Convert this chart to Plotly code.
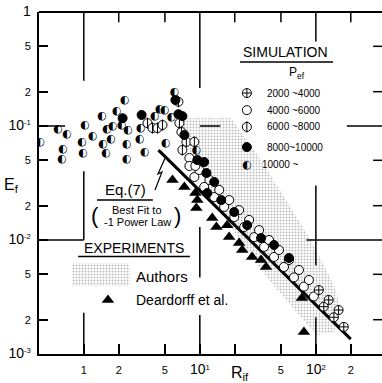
import math
import plotly.graph_objects as go

# ---------------- data ----------------
# Simulation, P_ef 10000~ (half-filled circles)
ri_p10k = [0.42, 0.598, 0.715, 0.660, 0.647, 1.02, 0.961, 0.98, 1.19, 1.43, 1.92, 1.58, 1.77, 1.46, 1.71,
           1.55, 2.39, 2.34, 2.34, 3.09, 4.07, 3.02, 3.34, 4.49, 4.96, 5.06, 2.25, 6.04, 2.12, 5.69, 9.33]
e_p10k = [0.0725, 0.0942, 0.0851, 0.0628, 0.0514, 0.102, 0.0725, 0.0579, 0.0817, 0.122, 0.135, 0.0942, 0.100,
          0.0695, 0.0769, 0.0579, 0.0923, 0.0695, 0.0514, 0.0960, 0.122, 0.0769, 0.0591, 0.141, 0.138, 0.0710,
          0.169, 0.199, 0.102, 0.120, 0.0616]

# P_ef 8000~10000 (filled circles)
ri_p8k = [2.16, 3.15, 6.16, 6.54, 7.08, 7.36, 9.52, 10.9, 11.6, 15.3, 19.8, 25.6, 33.7, 43.6, 58.7, 11.4, 13.3]
e_p8k = [0.117, 0.125, 0.169, 0.127, 0.122, 0.0834, 0.0503, 0.0483, 0.0258, 0.0224, 0.0176, 0.0135, 0.0104,
         0.00904, 0.00695, 0.0387, 0.0323]

# P_ef 6000~8000 (circle with vertical bar)
ri_p6k = [3.54, 3.91, 4.32, 4.77, 6.54, 6.67, 6.94, 7.66, 7.08, 8.97]
e_p6k = [0.106, 0.0960, 0.0960, 0.102, 0.163, 0.106, 0.0886, 0.0725, 0.0616, 0.0725]

# P_ef 4000~6000 (open circles)
ri_p4k = [8.97, 10.9, 13.3, 16.2, 19.8, 24.1, 29.4, 35.8, 43.6, 53.1, 64.8, 78.9, 96.1,
          9.9, 12.1, 14.7, 17.9, 21.8, 26.6, 32.4, 39.5, 48.1, 58.7, 71.5, 87.1, 8.13, 8.13, 9.15]
e_p4k = [0.0357, 0.0292, 0.0238, 0.0195, 0.0159, 0.0130, 0.0106, 0.0087, 0.0071, 0.0058, 0.0047, 0.0039, 0.0032,
         0.0411, 0.0336, 0.0275, 0.0224, 0.0183, 0.0150, 0.0122, 0.0100, 0.00817, 0.00668, 0.00546, 0.00446,
         0.0524, 0.0446, 0.0446]

# P_ef 2000~4000 (crossed circles)
ri_p2k = [117, 143, 174, 106, 129, 157]
e_p2k = [0.0026, 0.0021, 0.00173, 0.00364, 0.00298, 0.00243]

# Experiments: Deardorff et al.
ri_dear = [5.81, 7.36, 9.15, 9.52, 9.33, 12.8, 13.9, 17.2, 17.9, 21.8, 23.2, 28.2, 33.7, 37.2, 75.8, 78.9]
e_dear = [0.0336, 0.0292, 0.0258, 0.0224, 0.0191, 0.0156, 0.0130, 0.0135, 0.0106, 0.0094, 0.00817, 0.0071,
          0.00668, 0.0058, 0.0031, 0.00156]

# Experiments: Authors (shaded region outline)
ri_auth = [6.41, 18.6, 33.7, 58.7, 90.6, 143, 164, 143, 102, 71.5, 39.5, 21.8, 13.3, 8.97, 6.67, 6.41]
e_auth = [0.117, 0.117, 0.0503, 0.0203, 0.0100, 0.00403, 0.00243, 0.00156, 0.00147, 0.0022, 0.00446, 0.0100,
          0.0224, 0.0503, 0.0923, 0.117]

# Eq.(7): best fit to -1 power law
ri_eq7 = [4.4, 200]
e_eq7 = [0.0614, 0.00135]

# axis ticks
x_tickvals = [1, 2, 5, 10, 20, 50, 100, 200]
x_ticktext = ["1", "2", "5", "<span style='font-size:14px'>10</span><sup>1</sup>", "", "5",
              "<span style='font-size:14px'>10</span><sup>2</sup>", "2"]
y_tickvals = [0.001, 0.002, 0.005, 0.01, 0.02, 0.05, 0.1, 0.2, 0.5, 1]
y_ticktext = ["<span style='font-size:14px'>10</span><sup>-3</sup>", "2", "5",
              "<span style='font-size:14px'>10</span><sup>-2</sup>", "2", "5",
              "<span style='font-size:14px'>10</span><sup>-1</sup>", "2", "5",
              "<span style='font-size:14px'>1</span>"]

legend_labels = ["2000 ~4000", "4000 ~6000", "6000 ~8000", "8000~10000", "10000 ~"]

# ---------------- figure ----------------
XR = [-0.386, 2.57]
YR = [-3.0, 0.0]
FONT = "Liberation Sans"


def xp(v):
    return (math.log10(v) - XR[0]) / (XR[1] - XR[0])


def yp(v):
    return (math.log10(v) - YR[0]) / (YR[1] - YR[0])


fig = go.Figure()

pattern = dict(shape=".", fgcolor="#777777", bgcolor="white", size=3, solidity=0.35)

fig.add_trace(go.Scatter(x=ri_auth, y=e_auth, mode="lines", fill="toself", line=dict(width=0),
                         fillcolor="rgba(0,0,0,0)", fillpattern=pattern, hoverinfo="skip"))
fig.add_trace(go.Scatter(x=ri_eq7, y=e_eq7, mode="lines", line=dict(color="black", width=3)))
fig.add_trace(go.Scatter(x=ri_dear, y=e_dear, mode="markers",
                         marker=dict(symbol="triangle-up", size=11, color="black")))

circ_line = dict(color="black", width=1)
fig.add_trace(go.Scatter(x=ri_p4k, y=e_p4k, mode="markers",
                         marker=dict(symbol="circle", size=9, color="white", line=circ_line)))
fig.add_trace(go.Scatter(x=ri_p2k, y=e_p2k, mode="markers",
                         marker=dict(symbol="circle-cross", size=9, color="white", line=circ_line)))
fig.add_trace(go.Scatter(x=ri_p6k, y=e_p6k, mode="markers",
                         marker=dict(symbol="circle", size=9, color="white", line=circ_line)))
fig.add_trace(go.Scatter(x=ri_p6k, y=e_p6k, mode="markers",
                         marker=dict(symbol="line-ns", size=8, color="black", line=circ_line)))
fig.add_trace(go.Scatter(x=ri_p8k, y=e_p8k, mode="markers",
                         marker=dict(symbol="circle", size=9, color="black", line=circ_line)))
fig.add_trace(go.Scatter(x=ri_p10k, y=e_p10k, mode="text", text=["◐"] * len(ri_p10k),
                         textfont=dict(family="DejaVu Sans", size=11, color="black"),
                         textposition="middle center"))

# legend keys on an overlay unit axis
lx = 0.606
ly = [0.763, 0.713, 0.664, 0.605, 0.553]
fig.add_trace(go.Scatter(x=[lx], y=[ly[0]], xaxis="x2", yaxis="y2", mode="markers",
                         marker=dict(symbol="circle-cross", size=9, color="white", line=circ_line)))
fig.add_trace(go.Scatter(x=[lx], y=[ly[1]], xaxis="x2", yaxis="y2", mode="markers",
                         marker=dict(symbol="circle", size=9, color="white", line=circ_line)))
fig.add_trace(go.Scatter(x=[lx], y=[ly[2]], xaxis="x2", yaxis="y2", mode="markers",
                         marker=dict(symbol="circle", size=9, color="white", line=circ_line)))
fig.add_trace(go.Scatter(x=[lx], y=[ly[2]], xaxis="x2", yaxis="y2", mode="markers",
                         marker=dict(symbol="line-ns", size=8, color="black", line=circ_line)))
fig.add_trace(go.Scatter(x=[lx], y=[ly[3]], xaxis="x2", yaxis="y2", mode="markers",
                         marker=dict(symbol="circle", size=9, color="black", line=circ_line)))
fig.add_trace(go.Scatter(x=[lx], y=[ly[4]], xaxis="x2", yaxis="y2", mode="text", text=["◐"],
                         textfont=dict(family="DejaVu Sans", size=11, color="black"),
                         textposition="middle center"))
fig.add_trace(go.Scatter(x=[0.201], y=[0.158], xaxis="x2", yaxis="y2", mode="markers",
                         marker=dict(symbol="triangle-up", size=11, color="black")))
fig.add_trace(go.Scatter(x=[0.096, 0.265, 0.265, 0.096, 0.096], y=[0.199, 0.199, 0.266, 0.266, 0.199],
                         xaxis="x2", yaxis="y2", mode="lines", fill="toself", line=dict(width=0),
                         fillcolor="rgba(0,0,0,0)", fillpattern=pattern))

ann = []
for i, t in enumerate(legend_labels):
    ann.append(dict(x=0.659 if i < 4 else 0.644, y=ly[i], text=t, xanchor="left",
                    font=dict(family=FONT, size=10)))
ann += [
    dict(x=0.720, y=0.883, text="SIMULATION", font=dict(family=FONT, size=14)),
    dict(x=0.752, y=0.822, text="P<sub>ef</sub>", font=dict(family=FONT, size=12)),
    dict(x=0.277, y=0.310, text="EXPERIMENTS", font=dict(family=FONT, size=14)),
    dict(x=0.277, y=0.228, text="Authors", xanchor="left", font=dict(family=FONT, size=15)),
    dict(x=0.277, y=0.158, text="Deardorff et al.", xanchor="left", font=dict(family=FONT, size=14)),
    dict(x=0.251, y=0.480, text="Eq.(7)", font=dict(family=FONT, size=15)),
    dict(x=0.286, y=0.422, text="Best Fit to", font=dict(family=FONT, size=11)),
    dict(x=0.286, y=0.386, text="-1 Power Law", font=dict(family=FONT, size=11)),
    dict(x=0.164, y=0.404, text="(", font=dict(family=FONT, size=22)),
    dict(x=0.405, y=0.404, text=")", font=dict(family=FONT, size=22)),
    dict(x=0.586, y=-0.058, text="R<sub>if</sub>", font=dict(family=FONT, size=16)),
    dict(x=-0.079, y=0.494, text="E<sub>f</sub>", font=dict(family=FONT, size=16)),
]
for a in ann:
    a.setdefault("xref", "paper")
    a.setdefault("yref", "paper")
    a.setdefault("showarrow", False)
    a.setdefault("xanchor", "center")
    a.setdefault("yanchor", "middle")
    a["font"]["color"] = "black"
fig.update_layout(annotations=ann)

shapes = []


def seg(x0, y0, x1, y1, w=1.5):
    shapes.append(dict(type="line", xref="paper", yref="paper", x0=x0, y0=y0, x1=x1, y1=y1,
                       line=dict(color="black", width=w)))


# top frame line
seg(0, 1, 1, 1, 2)
# decade cross marks
seg(xp(1), yp(1), xp(1), yp(0.25))
seg(xp(1), yp(0.04), xp(1), yp(0.01))
seg(0, yp(0.01), xp(1), yp(0.01))
seg(0, yp(0.1), xp(0.69), yp(0.1))
seg(xp(1), yp(0.001), xp(1), yp(0.0023))
seg(xp(10), yp(1), xp(10), yp(0.215))
seg(xp(10), yp(0.1), xp(15), yp(0.1))
seg(xp(10), yp(0.013), xp(10), yp(0.0047))
seg(xp(10), yp(0.001), xp(10), yp(0.0022))
seg(xp(100), yp(1), xp(100), yp(0.55))
seg(xp(100), yp(0.03), xp(100), yp(0.006))
seg(xp(100), yp(0.001), xp(100), yp(0.0021))
seg(xp(83), yp(0.01), 1, yp(0.01))
seg(xp(185), yp(0.1), 1, yp(0.1))
# right-hand ticks
for v in [0.5, 0.2, 0.05, 0.02, 0.005, 0.002]:
    seg(0.974, yp(v), 1, yp(v))
# top ticks
for v in [2, 5, 20, 50, 200]:
    seg(xp(v), 1, xp(v), 0.97)
# underlines
seg(0.586, 0.854, 0.857, 0.854, 1.5)
seg(0.114, 0.285, 0.440, 0.285, 1.5)
seg(0.169, 0.450, 0.332, 0.450, 1.5)


def P(px, py):
    return ((px - 39) / 343.0, (354 - py) / 342.0)


# zig-zag arrow of Eq.(7)
pts = [P(155, 190), P(162, 172), P(158, 174), P(166, 156)]
path = "M " + " L ".join(f"{a:.4f},{b:.4f}" for a, b in pts)
shapes.append(dict(type="path", xref="paper", yref="paper", path=path, line=dict(color="black", width=1.2)))
fig.update_layout(shapes=shapes)

fig.update_layout(
    width=382, height=383,
    margin=dict(l=39, r=0, t=12, b=29),
    paper_bgcolor="white", plot_bgcolor="white",
    showlegend=False,
    font=dict(family=FONT, color="black", size=11),
    xaxis=dict(type="log", range=XR, tickvals=x_tickvals, ticktext=x_ticktext, ticks="inside",
               ticklen=10, tickwidth=1.5, tickcolor="black", showline=True, linecolor="black",
               linewidth=2, showgrid=False, zeroline=False, tickfont=dict(size=11),
               ticklabelstandoff=5),
    yaxis=dict(type="log", range=YR, tickvals=y_tickvals, ticktext=y_ticktext, ticks="inside",
               ticklen=9, tickwidth=1.5, tickcolor="black", showline=True, linecolor="black",
               linewidth=2, showgrid=False, zeroline=False, tickfont=dict(size=11),
               ticklabelstandoff=4),
    xaxis2=dict(overlaying="x", range=[0, 1], visible=False, anchor="y2"),
    yaxis2=dict(overlaying="y", range=[0, 1], visible=False, anchor="x2"),
)

fig.write_html("out.html")
